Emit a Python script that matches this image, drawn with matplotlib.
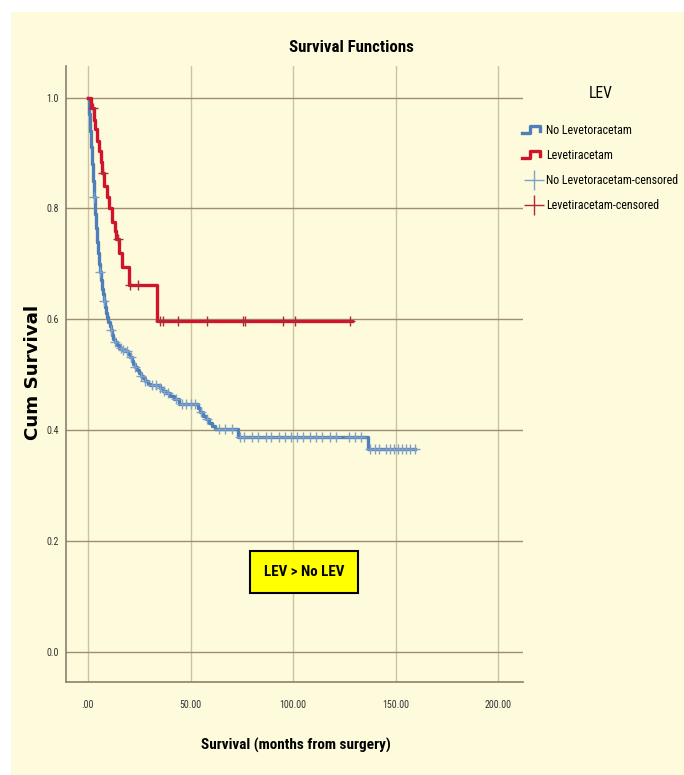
import numpy as np
import matplotlib
matplotlib.use("Agg")
import matplotlib.pyplot as plt
from matplotlib import font_manager
from matplotlib.lines import Line2D
from matplotlib.patches import Rectangle
from matplotlib.legend_handler import HandlerBase

# Kaplan-Meier steps (time in months, survival after the step)
no_lev_t = [0, 0.5, 1, 1.5, 2, 2.5, 3, 3.5, 4, 4.5, 5, 5.5, 6, 6.5, 7, 7.5, 8, 8.5, 9, 9.5,
            10, 10.5, 11, 11.7, 12.4, 13, 14, 15, 16.5, 18, 19.5, 20.5, 21.3, 22, 23, 24, 25,
            26, 27, 28, 29.5, 30, 35, 36.5, 38, 40, 42, 44.5, 53.5, 54.5, 56, 57.5, 59, 60.5,
            62, 73, 136.6, 159.5]
no_lev_s = [1.0, 0.97, 0.94, 0.91, 0.88, 0.85, 0.82, 0.79, 0.765, 0.74, 0.72, 0.70, 0.685,
            0.67, 0.655, 0.645, 0.632, 0.622, 0.612, 0.603, 0.594, 0.587, 0.58, 0.572, 0.565,
            0.559, 0.553, 0.548, 0.545, 0.542, 0.537, 0.532, 0.525, 0.519, 0.514, 0.509, 0.503,
            0.498, 0.493, 0.488, 0.483, 0.481, 0.476, 0.471, 0.466, 0.461, 0.456, 0.447, 0.44,
            0.432, 0.426, 0.419, 0.413, 0.407, 0.401, 0.388, 0.365, 0.365]
no_lev_cens = [3, 6, 8, 11, 13, 16, 17, 19, 21, 23, 26, 28, 31, 33, 35, 37, 39, 43, 46, 48, 50,
               52, 55, 58, 64, 67, 70, 74, 76, 80, 83, 87, 89, 93, 96, 99, 102, 105, 108, 111,
               114, 118, 121, 127, 130, 133, 137.5, 140, 142, 145, 147, 149, 151, 153, 155,
               157, 159.5]

lev_t = [0, 1.5, 3.0, 3.6, 4.5, 5.5, 6.4, 7.0, 8.0, 9.2, 10.4, 11.6, 13.0, 13.8, 15.0, 16.5,
         19.8, 33.8, 128.6]
lev_s = [1.0, 0.982, 0.96, 0.944, 0.922, 0.904, 0.884, 0.863, 0.841, 0.82, 0.80, 0.776, 0.76,
         0.745, 0.72, 0.695, 0.662, 0.597, 0.597]
lev_cens = [2.6, 7.3, 14.5, 20.5, 24.5, 35, 36.6, 44, 58, 75.4, 76.6, 95, 101, 127.8]

x_ticks = [0, 50, 100, 150, 200]
x_labels = [".00", "50.00", "100.00", "150.00", "200.00"]
y_ticks = [0.0, 0.2, 0.4, 0.6, 0.8, 1.0]
y_labels = ["0.0", "0.2", "0.4", "0.6", "0.8", "1.0"]
leg_labels = ["No Levetoracetam", "Levetiracetam", "No Levetoracetam-censored", "Levetiracetam-censored"]

blue = "#4f7fb8"
red = "#d0152b"
cream = "#fefbdc"

# pick a narrow font if one is there
fonts = font_manager.fontManager.ttflist
names = {f.name for f in fonts}
nf = {"family": "Liberation Sans"}
for cand in ["Liberation Sans Narrow", "Noto Sans Condensed", "Roboto Condensed", "Open Sans Condensed"]:
    if cand in names:
        nf = {"family": cand}
        break
else:
    for fam in ["Noto Sans", "DejaVu Sans"]:
        if any(f.name == fam and "condensed" in str(f.stretch) for f in fonts):
            nf = {"family": fam, "stretch": "condensed"}
            break


def surv_at(times, surv, t):
    i = np.searchsorted(times, t, side="right") - 1
    return np.array(surv)[i]


def fit_size(s, width_px, weight="normal", props=None):
    # font size that makes the string about width_px wide
    props = props or nf
    t = fig.text(0, 0, s, fontsize=10, fontweight=weight, **props)
    w = t.get_window_extent(fig.canvas.get_renderer()).width
    t.remove()
    return 10 * width_px / w


class StepHandler(HandlerBase):
    def create_artists(self, legend, orig_handle, xdescent, ydescent, width, height, fontsize, trans):
        x0 = -xdescent
        y0 = -ydescent
        xs = [x0, x0 + 0.35 * width, x0 + 0.35 * width, x0 + 0.8 * width, x0 + 0.8 * width]
        ys = [y0 + 0.1 * height, y0 + 0.1 * height, y0 + 0.9 * height, y0 + 0.9 * height, y0 + 0.35 * height]
        ln = Line2D(xs, ys, color=orig_handle.get_color(), lw=orig_handle.get_linewidth(), transform=trans)
        return [ln]


fig = plt.figure(figsize=(6.84, 7.75), dpi=100)
fig.patch.set_facecolor("white")
fig.add_artist(Rectangle((11 / 684, 0), 1, (775 - 12) / 775, transform=fig.transFigure,
                         facecolor=cream, edgecolor="none", zorder=-10))

ax = fig.add_axes([66 / 684, (775 - 682) / 775, (523 - 66) / 684, (682 - 66) / 775])
ax.set_facecolor(cream)
ax.set_xlim(-10.7, 212)
ax.set_ylim(-0.055, 1.057)

for x in x_ticks:
    ax.axvline(x, color="#cdc2a2", lw=1, zorder=1)
for y in y_ticks:
    ax.axhline(y, color="#a08e72", lw=1, zorder=1)

ax.plot(no_lev_t, no_lev_s, drawstyle="steps-post", color=blue, lw=2.4, zorder=3)
ax.plot(lev_t, lev_s, drawstyle="steps-post", color=red, lw=2.4, zorder=4)
ax.plot(no_lev_cens, surv_at(no_lev_t, no_lev_s, no_lev_cens), ls="none", marker="+",
        ms=7, mew=1, color="#7fa0c8", zorder=5)
ax.plot(lev_cens, surv_at(lev_t, lev_s, lev_cens), ls="none", marker="+",
        ms=7, mew=1, color="#b0283a", zorder=5)

tick_size = fit_size("100.00", 27)
ax.set_xticks(x_ticks)
ax.set_xticklabels(x_labels)
ax.set_yticks(y_ticks)
ax.set_yticklabels(y_labels)
ax.tick_params(length=0, colors="#333333")
ax.tick_params(axis="x", pad=13)
ax.tick_params(axis="y", pad=5)
for lab in ax.get_xticklabels() + ax.get_yticklabels():
    lab.set_fontproperties(font_manager.FontProperties(size=tick_size, **nf))

for side in ["top", "right"]:
    ax.spines[side].set_visible(False)
for side in ["left", "bottom"]:
    ax.spines[side].set_color("#8a8070")
    ax.spines[side].set_linewidth(1.2)

# yellow note box
ax.add_patch(Rectangle((79, 0.105), 52.7, 0.077, facecolor="#ffff00", edgecolor="black", lw=1.5, zorder=6))
ax.text(105.4, 0.143, "LEV > No LEV", ha="center", va="center",
        fontsize=fit_size("LEV > No LEV", 80, "bold"), fontweight="bold", zorder=7, **nf)

fig.text(351 / 684, (775 - 47) / 775, "Survival Functions", ha="center", va="center",
         fontsize=fit_size("Survival Functions", 125, "bold"), fontweight="bold", **nf)
fig.text(296 / 684, (775 - 745) / 775, "Survival (months from surgery)", ha="center",
         va="center", fontsize=fit_size("Survival (months from surgery)", 190, "bold"),
         fontweight="bold", **nf)
yl_props = {"family": "DejaVu Sans"}
fig.text(33 / 684, (775 - 372) / 775, "Cum Survival", ha="center", va="center",
         rotation=90, fontsize=fit_size("Cum Survival", 135, "bold", yl_props),
         fontweight="bold", **yl_props)

leg_size = fit_size(leg_labels[2], 131)
title_size = fit_size("LEV", 24)
spacing = 26.5 / (leg_size * 100 / 72) - 1.2

h1 = Line2D([], [], color=blue, lw=2.4)
h2 = Line2D([], [], color=red, lw=2.4)
h3 = Line2D([], [], ls="none", marker="+", ms=14, mew=1, color="#7fa0c8")
h4 = Line2D([], [], ls="none", marker="+", ms=14, mew=1, color="#b0283a")
leg = fig.legend([h1, h2, h3, h4], leg_labels,
                 loc="upper left", bbox_to_anchor=(514 / 684, (775 - 78) / 775),
                 frameon=False, title="LEV", handler_map={h1: StepHandler(), h2: StepHandler()},
                 handlelength=1.9, handletextpad=0.1, labelspacing=spacing, borderpad=0.2,
                 prop=font_manager.FontProperties(size=leg_size, **nf),
                 title_fontproperties=font_manager.FontProperties(size=title_size, **nf))
leg._legend_box.sep = 16

fig.savefig("out.png", dpi=100, facecolor=fig.get_facecolor())
